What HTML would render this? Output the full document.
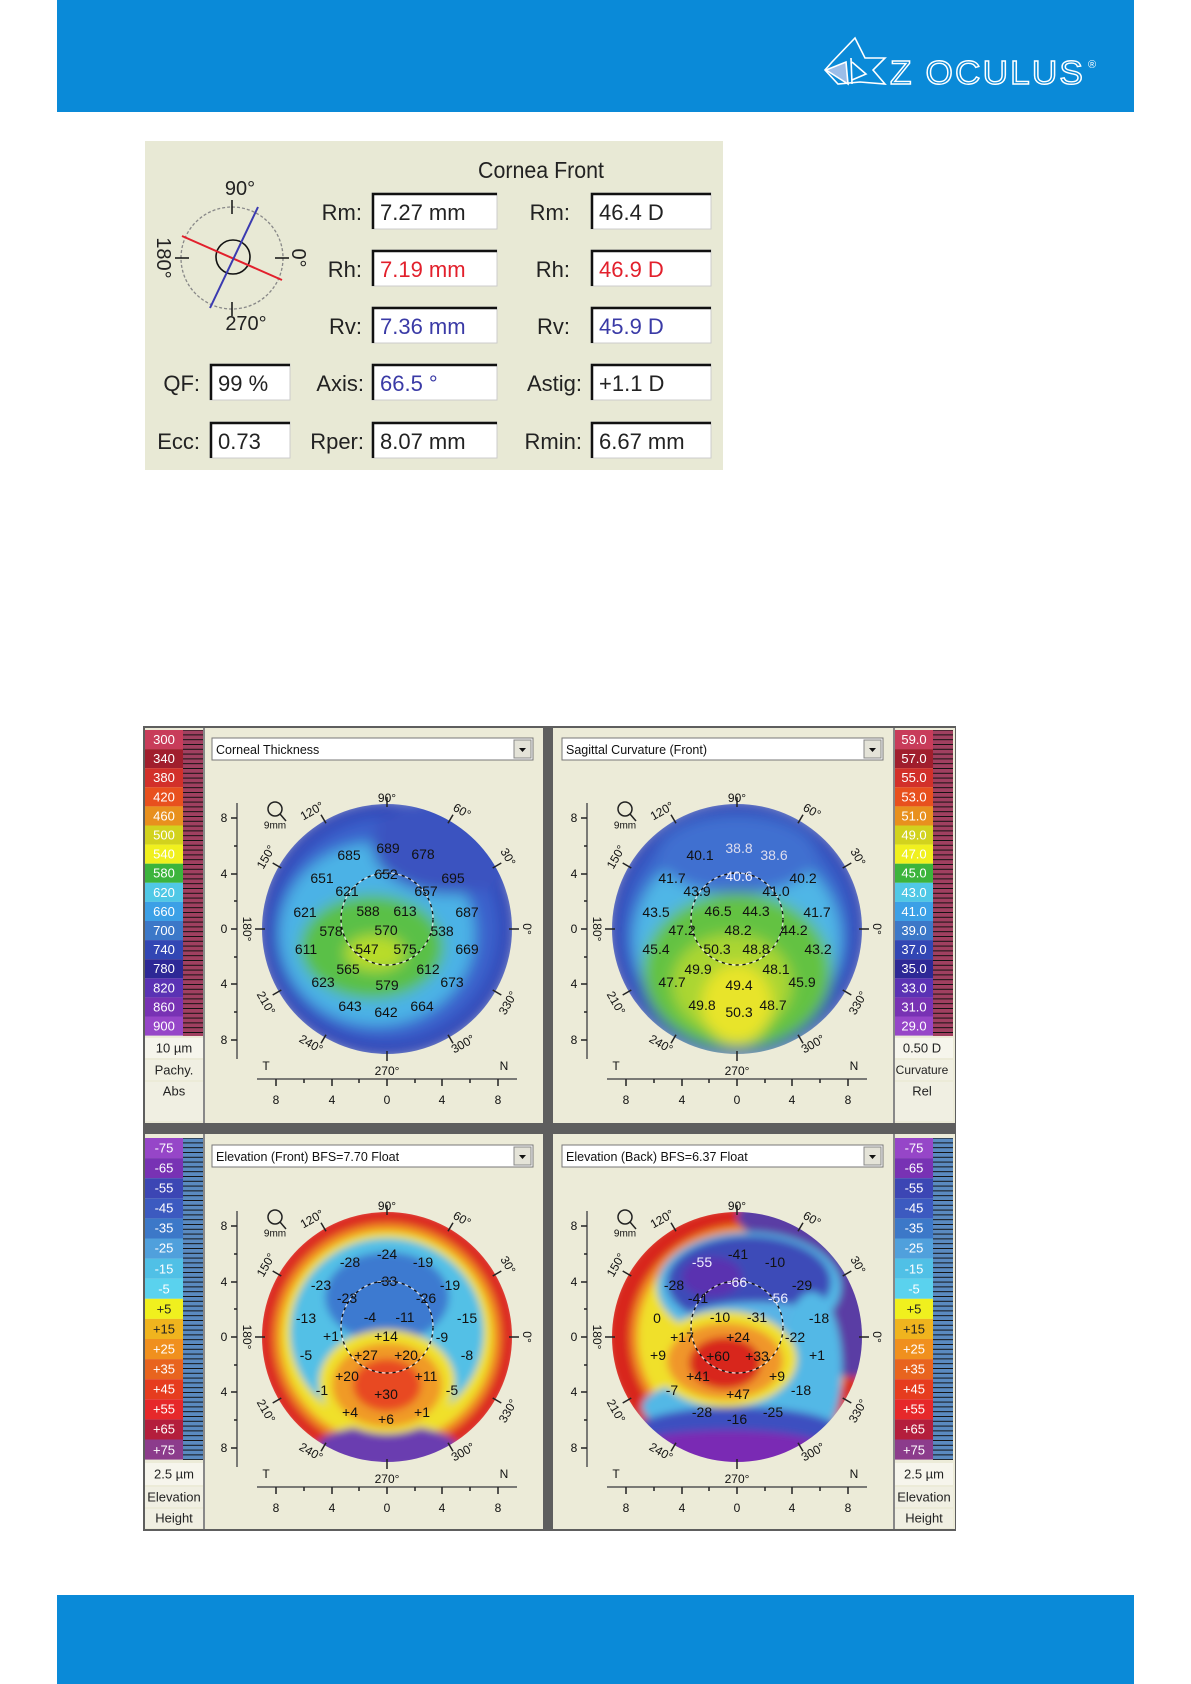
<!DOCTYPE html>
<html><head><meta charset="utf-8"><style>
html,body{margin:0;padding:0;background:#fff}
svg{display:block}
</style></head><body>
<svg width="1191" height="1684" viewBox="0 0 1191 1684" xmlns="http://www.w3.org/2000/svg" font-family="Liberation Sans Narrow, Liberation Sans, sans-serif">
<defs>
<filter id="bl" x="-20%" y="-20%" width="140%" height="140%"><feGaussianBlur stdDeviation="7"/></filter>
<filter id="bl2" x="-20%" y="-20%" width="140%" height="140%"><feGaussianBlur stdDeviation="4"/></filter>
<clipPath id="cc"><circle cx="0" cy="0" r="125"/></clipPath>
<pattern id="tp" width="20" height="4.8" patternUnits="userSpaceOnUse"><line x1="0" y1="0.5" x2="20" y2="0.5" stroke="#111" stroke-width="1"/></pattern>
<g id="tk" stroke="#222" stroke-width="1.5">
<line x1="122" y1="0" x2="132" y2="0"/><line x1="105.7" y1="-61" x2="114.3" y2="-66"/><line x1="61" y1="-105.7" x2="66" y2="-114.3"/><line x1="0" y1="-122" x2="0" y2="-132"/><line x1="-61" y1="-105.7" x2="-66" y2="-114.3"/><line x1="-105.7" y1="-61" x2="-114.3" y2="-66"/><line x1="-122" y1="0" x2="-132" y2="0"/><line x1="-105.7" y1="61" x2="-114.3" y2="66"/><line x1="-61" y1="105.7" x2="-66" y2="114.3"/><line x1="0" y1="122" x2="0" y2="132"/><line x1="61" y1="105.7" x2="66" y2="114.3"/><line x1="105.7" y1="61" x2="114.3" y2="66"/>
<line x1="-150" y1="-126" x2="-150" y2="130" stroke="#555"/>
<line x1="-156" y1="-111" x2="-150" y2="-111"/><line x1="-156" y1="-55" x2="-150" y2="-55"/><line x1="-156" y1="0" x2="-150" y2="0"/><line x1="-156" y1="55" x2="-150" y2="55"/><line x1="-156" y1="111" x2="-150" y2="111"/>
<line x1="-153" y1="-83" x2="-150" y2="-83"/><line x1="-153" y1="-28" x2="-150" y2="-28"/><line x1="-153" y1="28" x2="-150" y2="28"/><line x1="-153" y1="83" x2="-150" y2="83"/>
<line x1="-130" y1="150" x2="130" y2="150" stroke="#555"/>
<line x1="-111" y1="150" x2="-111" y2="157"/><line x1="-55" y1="150" x2="-55" y2="157"/><line x1="0" y1="150" x2="0" y2="157"/><line x1="55" y1="150" x2="55" y2="157"/><line x1="111" y1="150" x2="111" y2="157"/>
<line x1="-83" y1="150" x2="-83" y2="154"/><line x1="-28" y1="150" x2="-28" y2="154"/><line x1="28" y1="150" x2="28" y2="154"/><line x1="83" y1="150" x2="83" y2="154"/>
<circle cx="-112" cy="-120" r="7" fill="none"/><line x1="-107" y1="-115" x2="-101" y2="-108"/>
</g>
<g id="dc"><circle cx="0" cy="-10" r="46" fill="none" stroke="#111" stroke-width="1.3" stroke-dasharray="4 3"/><circle cx="0" cy="-10" r="46" fill="none" stroke="#fff" stroke-width="1.3" stroke-dasharray="4 3" stroke-dashoffset="3.5" opacity=".7"/></g>
</defs>

<rect x="57" y="0" width="1077" height="112" fill="#0a8ad8"/>
<rect x="57" y="1595" width="1077" height="89" fill="#0a8ad8"/>
<g fill="none" stroke="#fff" stroke-width="1.6">
<polygon points="855,38 865,58 885,58 873,70 885,84 860,82 838,84 825,70 832,62"/>
<polygon points="826,70 848,84 846,62" fill="#9cbde8" stroke="#fff"/>
<path d="M851,58 L852,84 M852,62 L866,74 L852,80"/>
</g>
<text x="890" y="84" font-family="Liberation Sans, sans-serif" font-size="33" letter-spacing="2" textLength="195" lengthAdjust="spacingAndGlyphs" fill="none" stroke="#fff" stroke-width="1.4">Z OCULUS</text>
<text x="1088" y="68" font-family="Liberation Sans, sans-serif" font-size="11" fill="#fff">®</text>

<rect x="145" y="141" width="578" height="329" fill="#e8e9d5"/>
<text x="478" y="178" font-size="23" textLength="126" lengthAdjust="spacingAndGlyphs" fill="#222">Cornea Front</text>
<g fill="#fff" stroke="#ccc" stroke-width="1">
<rect x="372" y="193" width="125" height="36"/><rect x="372" y="250" width="125" height="36"/><rect x="372" y="307" width="125" height="36"/><rect x="372" y="364" width="125" height="36"/><rect x="372" y="422" width="125" height="36"/>
<rect x="591" y="193" width="120" height="36"/><rect x="591" y="250" width="120" height="36"/><rect x="591" y="307" width="120" height="36"/><rect x="591" y="364" width="120" height="36"/><rect x="591" y="422" width="120" height="36"/>
<rect x="210" y="364" width="80" height="36"/><rect x="210" y="422" width="80" height="36"/>
</g>
<g fill="none" stroke="#111" stroke-width="2.5">
<path d="M373,229 V194 H497"/><path d="M373,286 V251 H497"/><path d="M373,343 V308 H497"/><path d="M373,400 V365 H497"/><path d="M373,458 V423 H497"/>
<path d="M592,229 V194 H711"/><path d="M592,286 V251 H711"/><path d="M592,343 V308 H711"/><path d="M592,400 V365 H711"/><path d="M592,458 V423 H711"/>
<path d="M211,400 V365 H290"/><path d="M211,458 V423 H290"/>
</g>
<g font-size="22" fill="#222" text-anchor="end">
<text x="362" y="220">Rm:</text><text x="362" y="277">Rh:</text><text x="362" y="334">Rv:</text><text x="364" y="391">Axis:</text><text x="364" y="449">Rper:</text>
<text x="570" y="220">Rm:</text><text x="570" y="277">Rh:</text><text x="570" y="334">Rv:</text><text x="582" y="391">Astig:</text><text x="582" y="449">Rmin:</text>
<text x="200" y="391">QF:</text><text x="200" y="449">Ecc:</text>
</g>
<g font-size="22">
<text x="380" y="220" fill="#222">7.27 mm</text><text x="380" y="277" fill="#e2202c">7.19 mm</text><text x="380" y="334" fill="#3a3aa6">7.36 mm</text><text x="380" y="391" fill="#3a3aa6">66.5 °</text><text x="380" y="449" fill="#222">8.07 mm</text>
<text x="599" y="220" fill="#222">46.4 D</text><text x="599" y="277" fill="#e2202c">46.9 D</text><text x="599" y="334" fill="#3a3aa6">45.9 D</text><text x="599" y="391" fill="#222">+1.1 D</text><text x="599" y="449" fill="#222">6.67 mm</text>
<text x="218" y="391" fill="#222">99 %</text><text x="218" y="449" fill="#222">0.73</text>
</g>
<circle cx="232" cy="258" r="51" fill="none" stroke="#888" stroke-width="1.3" stroke-dasharray="3 2"/>
<circle cx="233" cy="257" r="17" fill="none" stroke="#111" stroke-width="1.6"/>
<g stroke="#111" stroke-width="1.5"><line x1="232" y1="200" x2="232" y2="214"/><line x1="232" y1="302" x2="232" y2="316"/><line x1="175" y1="258" x2="189" y2="258"/><line x1="275" y1="258" x2="289" y2="258"/></g>
<line x1="182" y1="236" x2="282" y2="280" stroke="#e2202c" stroke-width="2"/>
<line x1="258" y1="207" x2="210" y2="308" stroke="#3a3ab0" stroke-width="2"/>
<g font-family="Liberation Sans, sans-serif" font-size="20" fill="#222" text-anchor="middle">
<text x="240" y="195">90°</text><text x="246" y="330">270°</text>
<text transform="translate(163,258) rotate(90)" dominant-baseline="central">180°</text>
<text transform="translate(298,258) rotate(90)" dominant-baseline="central">0°</text>
</g>

<rect x="143" y="726" width="813" height="805" fill="#5e5e5e"/>
<rect x="145" y="728" width="398" height="395" fill="#ecebd8"/>
<rect x="553" y="728" width="402" height="395" fill="#ecebd8"/>
<rect x="145" y="1134" width="398" height="395" fill="#ecebd8"/>
<rect x="553" y="1134" width="402" height="395" fill="#ecebd8"/>
<rect x="203" y="728" width="2" height="395" fill="#888"/><rect x="893" y="728" width="2" height="395" fill="#888"/>
<rect x="203" y="1134" width="2" height="395" fill="#888"/><rect x="893" y="1134" width="2" height="395" fill="#888"/>

<g id="lgL">
<rect x="145" y="730" width="38" height="19.1" fill="#c83c5a"/><rect x="145" y="749.1" width="38" height="19.1" fill="#a01e2d"/><rect x="145" y="768.2" width="38" height="19.1" fill="#d2302a"/><rect x="145" y="787.3" width="38" height="19.1" fill="#e8501e"/><rect x="145" y="806.4" width="38" height="19.1" fill="#e8901e"/><rect x="145" y="825.5" width="38" height="19.1" fill="#d2d21e"/><rect x="145" y="844.6" width="38" height="19.1" fill="#f0f01e"/><rect x="145" y="863.7" width="38" height="19.1" fill="#3cb43c"/><rect x="145" y="882.8" width="38" height="19.1" fill="#50c8e6"/><rect x="145" y="901.9" width="38" height="19.1" fill="#3ca0e6"/><rect x="145" y="921" width="38" height="19.1" fill="#3c78c8"/><rect x="145" y="940.1" width="38" height="19.1" fill="#3246b4"/><rect x="145" y="959.2" width="38" height="19.1" fill="#2d2896"/><rect x="145" y="978.3" width="38" height="19.1" fill="#5a32b4"/><rect x="145" y="997.4" width="38" height="19.1" fill="#7832b4"/><rect x="145" y="1016.5" width="38" height="19.1" fill="#9646c8"/>
</g>
<rect x="183" y="730" width="20" height="306" fill="#a04060"/>
<rect x="183" y="730" width="20" height="306" fill="url(#tp)"/>
<rect x="145" y="1038" width="58" height="20" fill="#f6f5ec"/><rect x="145" y="1060" width="58" height="20" fill="#f0efe2"/><rect x="145" y="1082" width="58" height="39" fill="#f0efe2"/>
<g font-size="13" text-anchor="middle" dominant-baseline="central">
<text x="164" y="739.5" fill="#fff">300</text><text x="164" y="758.6" fill="#fff">340</text><text x="164" y="777.7" fill="#fff">380</text><text x="164" y="796.8" fill="#fff">420</text><text x="164" y="815.9" fill="#fff">460</text><text x="164" y="835" fill="#fff">500</text><text x="164" y="854.1" fill="#fff">540</text><text x="164" y="873.2" fill="#fff">580</text><text x="164" y="892.3" fill="#fff">620</text><text x="164" y="911.4" fill="#fff">660</text><text x="164" y="930.5" fill="#fff">700</text><text x="164" y="949.6" fill="#fff">740</text><text x="164" y="968.7" fill="#fff">780</text><text x="164" y="987.8" fill="#fff">820</text><text x="164" y="1006.9" fill="#fff">860</text><text x="164" y="1026" fill="#fff">900</text>
<text x="174" y="1048" fill="#222">10 µm</text><text x="174" y="1070" fill="#222">Pachy.</text><text x="174" y="1091" fill="#222">Abs</text>
</g>

<g transform="translate(750,0)"><use href="#lgL"/></g>
<rect x="933" y="730" width="20" height="306" fill="#a04060"/>
<rect x="933" y="730" width="20" height="306" fill="url(#tp)"/>
<rect x="895" y="1038" width="58" height="20" fill="#f6f5ec"/><rect x="895" y="1060" width="58" height="20" fill="#f0efe2"/><rect x="895" y="1082" width="58" height="39" fill="#f0efe2"/>
<g font-size="13" text-anchor="middle" dominant-baseline="central">
<text x="914" y="739.5" fill="#fff">59.0</text><text x="914" y="758.6" fill="#fff">57.0</text><text x="914" y="777.7" fill="#fff">55.0</text><text x="914" y="796.8" fill="#fff">53.0</text><text x="914" y="815.9" fill="#fff">51.0</text><text x="914" y="835" fill="#fff">49.0</text><text x="914" y="854.1" fill="#fff">47.0</text><text x="914" y="873.2" fill="#fff">45.0</text><text x="914" y="892.3" fill="#fff">43.0</text><text x="914" y="911.4" fill="#fff">41.0</text><text x="914" y="930.5" fill="#fff">39.0</text><text x="914" y="949.6" fill="#fff">37.0</text><text x="914" y="968.7" fill="#fff">35.0</text><text x="914" y="987.8" fill="#fff">33.0</text><text x="914" y="1006.9" fill="#fff">31.0</text><text x="914" y="1026" fill="#fff">29.0</text>
<text x="922" y="1048" fill="#222">0.50 D</text><text x="922" y="1070" fill="#222" font-size="12">Curvature</text><text x="922" y="1091" fill="#222">Rel</text>
</g>

<g id="lgE">
<rect x="145" y="1138" width="38" height="20.1" fill="#9646c8"/><rect x="145" y="1158.1" width="38" height="20.1" fill="#7832b4"/><rect x="145" y="1178.2" width="38" height="20.1" fill="#3c46b4"/><rect x="145" y="1198.3" width="38" height="20.1" fill="#3c5ac0"/><rect x="145" y="1218.4" width="38" height="20.1" fill="#3c78c8"/><rect x="145" y="1238.5" width="38" height="20.1" fill="#50a0dc"/><rect x="145" y="1258.6" width="38" height="20.1" fill="#50c0e6"/><rect x="145" y="1278.7" width="38" height="20.1" fill="#5ad2ee"/><rect x="145" y="1298.8" width="38" height="20.1" fill="#f0f01e"/><rect x="145" y="1318.9" width="38" height="20.1" fill="#f0b41e"/><rect x="145" y="1339" width="38" height="20.1" fill="#f0901e"/><rect x="145" y="1359.1" width="38" height="20.1" fill="#e8641e"/><rect x="145" y="1379.2" width="38" height="20.1" fill="#e63c1e"/><rect x="145" y="1399.3" width="38" height="20.1" fill="#e6282a"/><rect x="145" y="1419.4" width="38" height="20.1" fill="#b41e3c"/><rect x="145" y="1439.5" width="38" height="20.1" fill="#8c3c8c"/>
</g>
<rect x="183" y="1138" width="20" height="322" fill="#5a8ac0"/>
<rect x="183" y="1138" width="20" height="322" fill="url(#tp)"/>
<g transform="translate(750,0)"><use href="#lgE"/></g>
<rect x="933" y="1138" width="20" height="322" fill="#5a8ac0"/>
<rect x="933" y="1138" width="20" height="322" fill="url(#tp)"/>
<rect x="145" y="1463" width="58" height="22" fill="#f6f5ec"/><rect x="145" y="1487" width="58" height="20" fill="#f0efe2"/><rect x="145" y="1509" width="58" height="19" fill="#f0efe2"/>
<rect x="895" y="1463" width="58" height="22" fill="#f6f5ec"/><rect x="895" y="1487" width="58" height="20" fill="#f0efe2"/><rect x="895" y="1509" width="58" height="19" fill="#f0efe2"/>
<g font-size="13" text-anchor="middle" dominant-baseline="central" fill="#fff">
<text x="164" y="1148">-75</text><text x="164" y="1168">-65</text><text x="164" y="1188">-55</text><text x="164" y="1208">-45</text><text x="164" y="1228">-35</text><text x="164" y="1248">-25</text><text x="164" y="1269">-15</text><text x="164" y="1289">-5</text><text x="164" y="1309" fill="#222">+5</text><text x="164" y="1329" fill="#222">+15</text><text x="164" y="1349">+25</text><text x="164" y="1369">+35</text><text x="164" y="1389">+45</text><text x="164" y="1409">+55</text><text x="164" y="1429">+65</text><text x="164" y="1450">+75</text>
<text x="914" y="1148">-75</text><text x="914" y="1168">-65</text><text x="914" y="1188">-55</text><text x="914" y="1208">-45</text><text x="914" y="1228">-35</text><text x="914" y="1248">-25</text><text x="914" y="1269">-15</text><text x="914" y="1289">-5</text><text x="914" y="1309" fill="#222">+5</text><text x="914" y="1329" fill="#222">+15</text><text x="914" y="1349">+25</text><text x="914" y="1369">+35</text><text x="914" y="1389">+45</text><text x="914" y="1409">+55</text><text x="914" y="1429">+65</text><text x="914" y="1450">+75</text>
<text x="174" y="1474" fill="#222">2.5 µm</text><text x="174" y="1497" fill="#222">Elevation</text><text x="174" y="1518" fill="#222">Height</text>
<text x="924" y="1474" fill="#222">2.5 µm</text><text x="924" y="1497" fill="#222">Elevation</text><text x="924" y="1518" fill="#222">Height</text>
</g>

<g>
<rect x="212" y="738" width="321" height="22" fill="#fff" stroke="#777"/><rect x="514" y="740" width="17" height="18" fill="#e4e3d8" stroke="#888"/><path d="M519,748 h7 l-3.5,4z" fill="#111"/>
<rect x="562" y="738" width="321" height="22" fill="#fff" stroke="#777"/><rect x="864" y="740" width="17" height="18" fill="#e4e3d8" stroke="#888"/><path d="M869,748 h7 l-3.5,4z" fill="#111"/>
<rect x="212" y="1145" width="321" height="22" fill="#fff" stroke="#777"/><rect x="514" y="1147" width="17" height="18" fill="#e4e3d8" stroke="#888"/><path d="M519,1155 h7 l-3.5,4z" fill="#111"/>
<rect x="562" y="1145" width="321" height="22" fill="#fff" stroke="#777"/><rect x="864" y="1147" width="17" height="18" fill="#e4e3d8" stroke="#888"/><path d="M869,1155 h7 l-3.5,4z" fill="#111"/>
</g>
<g font-size="12.5" fill="#111">
<text x="216" y="754">Corneal Thickness</text>
<text x="566" y="754">Sagittal Curvature (Front)</text>
<text x="216" y="1161">Elevation (Front)  BFS=7.70 Float</text>
<text x="566" y="1161">Elevation (Back)  BFS=6.37 Float</text>
</g>

<g transform="translate(387,929)">
<g clip-path="url(#cc)"><g filter="url(#bl)">
<circle r="130" fill="#3346b8"/>
<circle r="112" fill="#3a62cc"/>
<ellipse cx="-10" cy="5" rx="98" ry="92" fill="#4cb2e6"/>
<ellipse cx="65" cy="-85" rx="80" ry="50" fill="#3a52c0"/>
<ellipse cx="-15" cy="18" rx="72" ry="52" fill="#5ac046"/>
<ellipse cx="-12" cy="24" rx="30" ry="18" fill="#b8dc2a"/>
</g></g>
<use href="#dc"/><use href="#tk"/>
</g>
<g transform="translate(737,929)">
<g clip-path="url(#cc)"><g filter="url(#bl)">
<circle r="130" fill="#3346b8"/>
<circle r="114" fill="#3a66cc"/>
<ellipse cx="0" cy="10" rx="104" ry="98" fill="#50b6e6"/>
<ellipse cx="0" cy="-75" rx="80" ry="40" fill="#4070d0"/>
<ellipse cx="0" cy="42" rx="94" ry="78" fill="#64c242"/>
<ellipse cx="-5" cy="55" rx="60" ry="50" fill="#aad630"/>
<ellipse cx="0" cy="75" rx="35" ry="40" fill="#e8e42a"/>
</g></g>
<use href="#dc"/><use href="#tk"/>
</g>
<g transform="translate(387,1337)">
<g clip-path="url(#cc)"><g filter="url(#bl2)">
<circle r="130" fill="#dc2a22"/>
<circle r="114" fill="#f08a24"/>
<circle r="106" fill="#f0e02a"/>
<ellipse cx="0" cy="-5" rx="97" ry="94" fill="#52c0e6"/>
<ellipse cx="0" cy="-40" rx="62" ry="45" fill="#3c7ad0"/>
<ellipse cx="0" cy="110" rx="70" ry="22" fill="#6a3cb0"/>
<ellipse cx="0" cy="45" rx="68" ry="52" fill="#f0e02a"/>
<ellipse cx="0" cy="48" rx="55" ry="42" fill="#f09a26"/>
<ellipse cx="0" cy="48" rx="34" ry="26" fill="#e84820"/>
</g></g>
<use href="#dc"/><use href="#tk"/>
</g>
<g transform="translate(737,1337)">
<g clip-path="url(#cc)"><g filter="url(#bl2)">
<circle r="130" fill="#d8261e"/>
<circle cx="5" r="112" fill="#f08a24"/>
<circle cx="5" cy="0" r="104" fill="#f0e02a"/>
<ellipse cx="115" cy="-60" rx="55" ry="100" fill="#5a3ca4"/>
<ellipse cx="60" cy="-120" rx="60" ry="25" fill="#5a3ca4"/>
<ellipse cx="12" cy="-50" rx="92" ry="55" fill="#52b8e6"/>
<ellipse cx="12" cy="-55" rx="82" ry="46" fill="#3c4cb8"/>
<ellipse cx="-25" cy="-60" rx="30" ry="20" fill="#5a30b0"/>
<ellipse cx="20" cy="-15" rx="75" ry="20" fill="#58b4e6"/>
<ellipse cx="75" cy="30" rx="30" ry="75" fill="#52b8e6"/>
<ellipse cx="0" cy="70" rx="95" ry="30" fill="#52b8e6"/>
<ellipse cx="0" cy="92" rx="100" ry="22" fill="#3c50c0"/>
<ellipse cx="-10" cy="118" rx="115" ry="25" fill="#7a2cb4"/>
<ellipse cx="-12" cy="22" rx="72" ry="48" fill="#f0e02a"/>
<ellipse cx="-12" cy="24" rx="58" ry="38" fill="#f0962a"/>
<ellipse cx="-12" cy="26" rx="36" ry="26" fill="#d8281e"/>
</g></g>
<use href="#dc"/><use href="#tk"/>
</g>

<g font-family="Liberation Sans, sans-serif" font-size="12" fill="#111" text-anchor="middle" dominant-baseline="central">
<g transform="translate(387,929)">
<text x="0" y="-131">90°</text><text x="0" y="142">270°</text>
<text transform="translate(-75,-118) rotate(-30)">120°</text><text transform="translate(75,-118) rotate(30)">60°</text>
<text transform="translate(-121,-72) rotate(-60)">150°</text><text transform="translate(121,-72) rotate(60)">30°</text>
<text transform="translate(-140,0) rotate(90)">180°</text><text transform="translate(140,0) rotate(90)">0°</text>
<text transform="translate(-121,74) rotate(60)">210°</text><text transform="translate(121,74) rotate(-60)">330°</text>
<text transform="translate(-76,115) rotate(30)">240°</text><text transform="translate(76,115) rotate(-30)">300°</text>
<text x="-163" y="-111">8</text><text x="-163" y="-55">4</text><text x="-163" y="0">0</text><text x="-163" y="55">4</text><text x="-163" y="111">8</text>
<text x="-111" y="171">8</text><text x="-55" y="171">4</text><text x="0" y="171">0</text><text x="55" y="171">4</text><text x="111" y="171">8</text>
<text x="-121" y="137">T</text><text x="117" y="137">N</text><text x="-112" y="-103" font-size="10">9mm</text>
</g>
<g transform="translate(737,929)">
<text x="0" y="-131">90°</text><text x="0" y="142">270°</text>
<text transform="translate(-75,-118) rotate(-30)">120°</text><text transform="translate(75,-118) rotate(30)">60°</text>
<text transform="translate(-121,-72) rotate(-60)">150°</text><text transform="translate(121,-72) rotate(60)">30°</text>
<text transform="translate(-140,0) rotate(90)">180°</text><text transform="translate(140,0) rotate(90)">0°</text>
<text transform="translate(-121,74) rotate(60)">210°</text><text transform="translate(121,74) rotate(-60)">330°</text>
<text transform="translate(-76,115) rotate(30)">240°</text><text transform="translate(76,115) rotate(-30)">300°</text>
<text x="-163" y="-111">8</text><text x="-163" y="-55">4</text><text x="-163" y="0">0</text><text x="-163" y="55">4</text><text x="-163" y="111">8</text>
<text x="-111" y="171">8</text><text x="-55" y="171">4</text><text x="0" y="171">0</text><text x="55" y="171">4</text><text x="111" y="171">8</text>
<text x="-121" y="137">T</text><text x="117" y="137">N</text><text x="-112" y="-103" font-size="10">9mm</text>
</g>
<g transform="translate(387,1337)">
<text x="0" y="-131">90°</text><text x="0" y="142">270°</text>
<text transform="translate(-75,-118) rotate(-30)">120°</text><text transform="translate(75,-118) rotate(30)">60°</text>
<text transform="translate(-121,-72) rotate(-60)">150°</text><text transform="translate(121,-72) rotate(60)">30°</text>
<text transform="translate(-140,0) rotate(90)">180°</text><text transform="translate(140,0) rotate(90)">0°</text>
<text transform="translate(-121,74) rotate(60)">210°</text><text transform="translate(121,74) rotate(-60)">330°</text>
<text transform="translate(-76,115) rotate(30)">240°</text><text transform="translate(76,115) rotate(-30)">300°</text>
<text x="-163" y="-111">8</text><text x="-163" y="-55">4</text><text x="-163" y="0">0</text><text x="-163" y="55">4</text><text x="-163" y="111">8</text>
<text x="-111" y="171">8</text><text x="-55" y="171">4</text><text x="0" y="171">0</text><text x="55" y="171">4</text><text x="111" y="171">8</text>
<text x="-121" y="137">T</text><text x="117" y="137">N</text><text x="-112" y="-103" font-size="10">9mm</text>
</g>
<g transform="translate(737,1337)">
<text x="0" y="-131">90°</text><text x="0" y="142">270°</text>
<text transform="translate(-75,-118) rotate(-30)">120°</text><text transform="translate(75,-118) rotate(30)">60°</text>
<text transform="translate(-121,-72) rotate(-60)">150°</text><text transform="translate(121,-72) rotate(60)">30°</text>
<text transform="translate(-140,0) rotate(90)">180°</text><text transform="translate(140,0) rotate(90)">0°</text>
<text transform="translate(-121,74) rotate(60)">210°</text><text transform="translate(121,74) rotate(-60)">330°</text>
<text transform="translate(-76,115) rotate(30)">240°</text><text transform="translate(76,115) rotate(-30)">300°</text>
<text x="-163" y="-111">8</text><text x="-163" y="-55">4</text><text x="-163" y="0">0</text><text x="-163" y="55">4</text><text x="-163" y="111">8</text>
<text x="-111" y="171">8</text><text x="-55" y="171">4</text><text x="0" y="171">0</text><text x="55" y="171">4</text><text x="111" y="171">8</text>
<text x="-121" y="137">T</text><text x="117" y="137">N</text><text x="-112" y="-103" font-size="10">9mm</text>
</g>
</g>

<g font-size="14" fill="#111" text-anchor="middle" dominant-baseline="central">
<text x="349" y="855">685</text><text x="388" y="848">689</text><text x="423" y="854">678</text><text x="322" y="878">651</text><text x="386" y="874">652</text><text x="453" y="878">695</text><text x="347" y="891">621</text><text x="426" y="891">657</text><text x="305" y="912">621</text><text x="368" y="911">588</text><text x="405" y="911">613</text><text x="467" y="912">687</text><text x="331" y="931">578</text><text x="386" y="930">570</text><text x="442" y="931">538</text><text x="306" y="949">611</text><text x="367" y="949">547</text><text x="405" y="949">575</text><text x="467" y="949">669</text><text x="348" y="969">565</text><text x="428" y="969">612</text><text x="323" y="982">623</text><text x="387" y="985">579</text><text x="452" y="982">673</text><text x="350" y="1006">643</text><text x="386" y="1012">642</text><text x="422" y="1006">664</text>

<text x="700" y="855">40.1</text><text x="739" y="848" fill="#dde">38.8</text><text x="774" y="855" fill="#dde">38.6</text><text x="672" y="878">41.7</text><text x="739" y="876" fill="#eef">40.6</text><text x="803" y="878">40.2</text><text x="697" y="891">43.9</text><text x="776" y="891">41.0</text><text x="656" y="912">43.5</text><text x="718" y="911">46.5</text><text x="756" y="911">44.3</text><text x="817" y="912">41.7</text><text x="682" y="930">47.2</text><text x="738" y="930">48.2</text><text x="794" y="930">44.2</text><text x="656" y="949">45.4</text><text x="717" y="949">50.3</text><text x="756" y="949">48.8</text><text x="818" y="949">43.2</text><text x="698" y="969">49.9</text><text x="776" y="969">48.1</text><text x="672" y="982">47.7</text><text x="739" y="985">49.4</text><text x="802" y="982">45.9</text><text x="702" y="1005">49.8</text><text x="739" y="1012">50.3</text><text x="773" y="1005">48.7</text>

<text x="350" y="1262">-28</text><text x="387" y="1254">-24</text><text x="423" y="1262">-19</text><text x="321" y="1285">-23</text><text x="387" y="1281">-33</text><text x="450" y="1285">-19</text><text x="347" y="1298">-23</text><text x="426" y="1298">-26</text><text x="306" y="1318">-13</text><text x="370" y="1317">-4</text><text x="405" y="1317">-11</text><text x="467" y="1318">-15</text><text x="331" y="1336">+1</text><text x="386" y="1336">+14</text><text x="442" y="1337">-9</text><text x="306" y="1355">-5</text><text x="366" y="1355">+27</text><text x="406" y="1355">+20</text><text x="467" y="1355">-8</text><text x="347" y="1376">+20</text><text x="426" y="1376">+11</text><text x="322" y="1390">-1</text><text x="386" y="1394">+30</text><text x="452" y="1390">-5</text><text x="350" y="1412">+4</text><text x="386" y="1419">+6</text><text x="422" y="1412">+1</text>

<text x="702" y="1262" fill="#eef">-55</text><text x="738" y="1254">-41</text><text x="775" y="1262">-10</text><text x="674" y="1285">-28</text><text x="737" y="1282" fill="#eef">-66</text><text x="802" y="1285">-29</text><text x="698" y="1298">-41</text><text x="778" y="1298" fill="#eef">-56</text><text x="657" y="1318">0</text><text x="720" y="1317">-10</text><text x="757" y="1317">-31</text><text x="819" y="1318">-18</text><text x="682" y="1337">+17</text><text x="738" y="1337">+24</text><text x="795" y="1337">-22</text><text x="658" y="1355">+9</text><text x="718" y="1356">+60</text><text x="757" y="1356">+33</text><text x="817" y="1355">+1</text><text x="698" y="1376">+41</text><text x="777" y="1376">+9</text><text x="672" y="1390">-7</text><text x="738" y="1394">+47</text><text x="801" y="1390">-18</text><text x="702" y="1412">-28</text><text x="737" y="1419">-16</text><text x="773" y="1412">-25</text>
</g>
</svg>
</body></html>
